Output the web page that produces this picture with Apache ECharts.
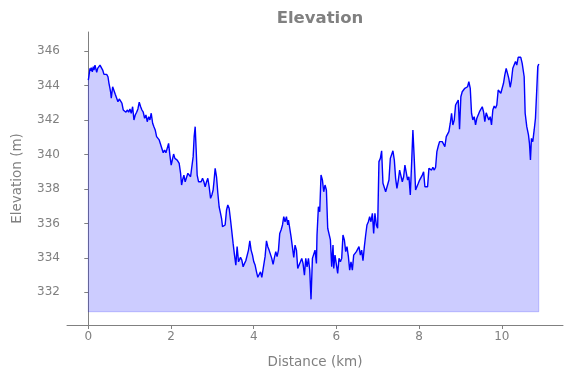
<!DOCTYPE html>
<html>
<head>
<meta charset="utf-8">
<script src="https://cdn.jsdelivr.net/npm/echarts@6/dist/echarts.min.js"></script>
<style>
  html, body { margin: 0; padding: 0; background: #fff; }
  #elev_chart { width: 571px; height: 378px; }
</style>
</head>
<body>
<div id="elev_chart"></div>
<script>
// distance along the track (km)
var distKm = [
  0.000, 0.010, 0.041, 0.058, 0.072, 0.097, 0.121, 0.138, 0.162, 0.186, 0.203, 0.227, 0.258, 0.283, 0.314, 0.348,
  0.379, 0.444, 0.476, 0.500, 0.524, 0.541, 0.556, 0.589, 0.621, 0.652, 0.686, 0.717, 0.749, 0.783, 0.814, 0.845,
  0.879, 0.911, 0.942, 0.976, 1.007, 1.039, 1.072, 1.104, 1.135, 1.169, 1.200, 1.232, 1.266, 1.297, 1.329, 1.362,
  1.394, 1.425, 1.459, 1.490, 1.522, 1.556, 1.587, 1.618, 1.652, 1.684, 1.715, 1.749, 1.812, 1.845, 1.877, 1.908,
  1.942, 1.973, 2.005, 2.029, 2.063, 2.094, 2.118, 2.150, 2.174, 2.198, 2.232, 2.256, 2.280, 2.312, 2.343, 2.377,
  2.408, 2.440, 2.473, 2.512, 2.536, 2.560, 2.585, 2.609, 2.633, 2.667, 2.698, 2.729, 2.763, 2.795, 2.826, 2.860,
  2.891, 2.923, 2.957, 2.988, 3.019, 3.043, 3.068, 3.101, 3.133, 3.164, 3.198, 3.222, 3.246, 3.278, 3.309, 3.343,
  3.374, 3.406, 3.440, 3.471, 3.502, 3.536, 3.568, 3.599, 3.633, 3.664, 3.681, 3.713, 3.744, 3.778, 3.809, 3.841,
  3.874, 3.906, 3.937, 3.971, 4.002, 4.034, 4.068, 4.099, 4.130, 4.164, 4.196, 4.244, 4.275, 4.309, 4.341, 4.372,
  4.406, 4.437, 4.469, 4.502, 4.534, 4.565, 4.599, 4.630, 4.662, 4.696, 4.727, 4.758, 4.792, 4.824, 4.841, 4.872,
  4.903, 4.937, 4.969, 5.000, 5.034, 5.065, 5.097, 5.130, 5.162, 5.193, 5.227, 5.259, 5.290, 5.324, 5.355, 5.386,
  5.420, 5.452, 5.483, 5.517, 5.531, 5.565, 5.597, 5.628, 5.662, 5.693, 5.725, 5.758, 5.790, 5.821, 5.855, 5.886,
  5.918, 5.935, 5.966, 6.000, 6.031, 6.063, 6.097, 6.128, 6.159, 6.193, 6.225, 6.256, 6.290, 6.321, 6.353, 6.386,
  6.418, 6.449, 6.483, 6.514, 6.546, 6.580, 6.611, 6.643, 6.676, 6.708, 6.739, 6.773, 6.804, 6.836, 6.870, 6.901,
  6.932, 6.966, 6.997, 7.029, 7.063, 7.094, 7.126, 7.159, 7.191, 7.239, 7.271, 7.304, 7.336, 7.367, 7.401, 7.432,
  7.464, 7.498, 7.529, 7.560, 7.594, 7.626, 7.657, 7.691, 7.722, 7.754, 7.787, 7.819, 7.850, 7.884, 7.915, 7.947,
  7.981, 8.012, 8.043, 8.077, 8.109, 8.140, 8.174, 8.205, 8.237, 8.271, 8.302, 8.333, 8.367, 8.399, 8.430, 8.464,
  8.495, 8.527, 8.560, 8.592, 8.623, 8.657, 8.688, 8.720, 8.754, 8.785, 8.816, 8.850, 8.882, 8.913, 8.947, 8.978,
  9.010, 9.043, 9.075, 9.106, 9.140, 9.172, 9.203, 9.237, 9.268, 9.300, 9.333, 9.365, 9.396, 9.430, 9.461, 9.493,
  9.527, 9.558, 9.589, 9.623, 9.655, 9.686, 9.720, 9.751, 9.783, 9.816, 9.848, 9.879, 9.913, 9.944, 9.976, 10.010,
  10.041, 10.072, 10.106, 10.138, 10.169, 10.203, 10.234, 10.266, 10.300, 10.331, 10.362, 10.396, 10.427, 10.459, 10.493, 10.524,
  10.541, 10.565, 10.604, 10.645, 10.669, 10.693, 10.717, 10.749, 10.783, 10.814, 10.845, 10.870, 10.894
];
// elevation (m)
var elevM = [
  344.33, 344.47, 345.01, 344.86, 345.05, 344.81, 345.11, 344.91, 345.20, 344.95, 344.78, 345.01, 345.05, 345.20, 345.24, 344.91,
  344.66, 344.66, 344.52, 344.14, 343.85, 343.62, 343.27, 343.94, 343.85, 343.50, 343.56, 343.07, 343.23, 343.11, 342.98, 342.59,
  342.69, 342.46, 342.59, 342.46, 342.65, 342.40, 342.78, 342.01, 342.30, 342.46, 342.65, 343.04, 342.78, 342.59, 342.46, 342.11,
  342.30, 341.91, 342.20, 342.01, 342.40, 341.82, 341.62, 341.43, 341.04, 341.14, 340.85, 340.75, 340.11, 340.26, 340.11, 340.36,
  340.65, 339.97, 339.39, 339.29, 340.03, 339.78, 339.88, 339.68, 339.78, 339.49, 338.91, 338.23, 338.52, 338.81, 338.42, 338.52,
  338.91, 339.00, 338.71, 338.62, 339.88, 341.04, 341.62, 340.26, 338.81, 338.42, 338.52, 338.42, 338.62, 338.42, 338.13, 338.42,
  338.62, 338.13, 337.46, 337.65, 337.94, 338.52, 339.20, 338.71, 337.75, 336.97, 336.59, 336.30, 335.81, 335.81, 335.91, 336.78,
  337.07, 336.88, 336.20, 335.52, 334.84, 334.16, 333.58, 334.65, 333.77, 333.77, 334.03, 333.87, 333.48, 333.68, 333.83, 333.87,
  334.45, 334.99, 334.45, 334.16, 333.77, 333.58, 333.19, 332.87, 332.87, 333.19, 332.87, 332.87, 334.07, 334.99, 334.65, 334.45,
  334.36, 333.97, 333.62, 334.03, 334.36, 334.07, 334.45, 335.42, 335.62, 335.91, 336.39, 336.10, 336.39, 335.91, 336.20, 336.20,
  335.23, 335.13, 334.03, 334.74, 334.45, 333.39, 333.48, 333.77, 333.97, 333.68, 333.00, 333.97, 333.48, 333.97, 333.29, 331.59,
  333.97, 334.07, 334.45, 333.68, 335.33, 336.97, 336.68, 338.81, 338.52, 337.84, 338.23, 337.94, 335.72, 335.81, 335.04, 333.48,
  334.74, 333.39, 334.16, 334.07, 333.10, 333.97, 333.77, 333.97, 335.33, 335.04, 334.36, 334.65, 334.07, 333.29, 333.77, 333.29,
  334.16, 334.07, 334.36, 334.26, 334.65, 334.16, 334.45, 333.83, 334.65, 335.33, 335.91, 336.10, 336.39, 336.10, 336.59, 335.42,
  336.59, 335.91, 335.72, 339.59, 339.78, 340.22, 338.33, 338.42, 337.84, 337.84, 338.52, 339.78, 339.68, 340.22, 339.68, 338.62,
  338.04, 338.52, 339.10, 339.20, 338.42, 338.71, 339.39, 339.29, 338.52, 338.71, 337.65, 339.49, 341.43, 339.68, 337.94, 338.13,
  338.33, 338.52, 338.62, 338.81, 339.00, 338.13, 338.23, 338.13, 339.20, 339.20, 339.10, 339.26, 339.10, 339.26, 340.17, 340.50,
  340.75, 340.81, 340.75, 340.81, 340.46, 341.04, 340.94, 341.33, 341.82, 342.40, 341.72, 342.01, 342.88, 342.78, 343.17, 341.47,
  343.36, 343.65, 343.56, 343.85, 343.75, 343.94, 344.23, 343.85, 342.40, 342.01, 342.20, 341.72, 342.11, 342.01, 342.49, 342.59,
  342.78, 342.49, 341.91, 342.43, 342.40, 342.01, 342.20, 341.72, 342.59, 342.82, 342.69, 342.88, 343.75, 343.85, 343.56, 343.65,
  344.14, 344.62, 345.01, 344.72, 344.43, 343.91, 344.33, 345.01, 344.91, 345.40, 345.20, 345.65, 345.54, 345.65, 345.30, 345.40,
  344.52, 342.40, 341.62, 341.14, 340.65, 339.68, 340.94, 340.75, 341.43, 342.11, 343.75, 345.11, 345.26
];
// floor of the shaded area (m)
var fillBase = 330.87;
var xTicks = [0, 2, 4, 6, 8, 10];
var yTicks = [332, 334, 336, 338, 340, 342, 344, 346];

var myChart = echarts.init(document.getElementById("elev_chart"));

var profile = distKm.map(function (d, i) {
  return [d, elevM[i]];
});
var last = distKm.length - 1;
// outline of the filled polygon (left side, floor, right side)
var fillEdge = [
  [distKm[0], elevM[0]],
  [distKm[0], fillBase],
  [distKm[last], fillBase],
  [distKm[last], elevM[last]],
];

var grey = "#808080";
var font = "DejaVu Sans";

var option = {
  animation: false,
  backgroundColor: "#fff",
  title: {
    text: "Elevation",
    left: 315,
    textAlign: "center",
    top: 5,
    textStyle: {
      color: grey,
      fontFamily: font,
      fontWeight: "bold",
      fontSize: 16.5,
    },
  },
  grid: {
    left: 67,
    right: 8,
    top: 32,
    bottom: 53,
    outerBoundsMode: "none",
  },
  xAxis: {
    type: "value",
    min: -0.515,
    max: 11.48,
    name: "Distance (km)",
    nameLocation: "middle",
    nameGap: 30,
    nameTextStyle: { color: grey, fontFamily: font, fontSize: 13.5 },
    axisLine: { show: true, lineStyle: { color: grey, width: 1 } },
    axisTick: { show: true, length: 4, customValues: xTicks, lineStyle: { color: grey } },
    axisLabel: { customValues: xTicks, color: grey, fontFamily: font, fontSize: 12, margin: 6 },
    splitLine: { show: false },
  },
  yAxis: {
    type: "value",
    min: 330.1,
    max: 347.12,
    name: "Elevation (m)",
    nameLocation: "middle",
    nameGap: 43,
    nameTextStyle: { color: grey, fontFamily: font, fontSize: 13.5 },
    axisLine: { show: true, lineStyle: { color: grey, width: 1 } },
    axisTick: { show: true, length: 4, customValues: yTicks, lineStyle: { color: grey } },
    axisLabel: { customValues: yTicks, color: grey, fontFamily: font, fontSize: 12, margin: 7 },
    splitLine: { show: false },
  },
  series: [
    {
      name: "fill edge",
      type: "line",
      data: fillEdge,
      showSymbol: false,
      silent: true,
      lineStyle: { color: "rgba(0,0,255,0.2)", width: 1 },
      z: 3,
    },
    {
      name: "elevation",
      type: "line",
      data: profile,
      showSymbol: false,
      lineStyle: { color: "#0000ff", width: 1.4 },
      areaStyle: { color: "rgba(0,0,255,0.2)", opacity: 1, origin: fillBase },
      z: 2,
    },
  ],
};

myChart.setOption(option);
window.onresize = function () {
  myChart.resize();
};
</script>
</body>
</html>
